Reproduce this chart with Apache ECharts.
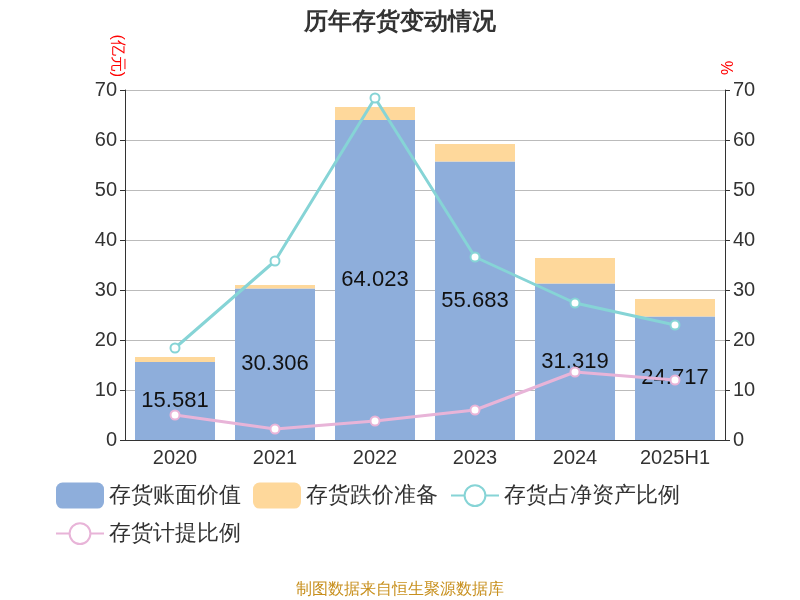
<!DOCTYPE html>
<html><head><meta charset="utf-8">
<script src="https://cdn.jsdelivr.net/npm/echarts@6/dist/echarts.min.js"></script>
<style>html,body{margin:0;padding:0}#c{width:800px;height:600px}</style>
</head><body><div id="c"></div>
<script>
const categories = ['2020','2021','2022','2023','2024','2025H1'];
const bookValue = [15.581, 30.306, 64.023, 55.683, 31.319, 24.717];
const reserve = [1.0, 0.7, 2.6, 3.5, 5.1, 3.5];
const ratioNetAssets = [18.4, 35.8, 68.4, 36.6, 27.4, 23.0];
const ratioProvision = [5.0, 2.2, 3.8, 6.0, 13.6, 12.0];
const ticks = {min:0, max:70, interval:10};
const chart = echarts.init(document.getElementById('c'));
const axisLabel = {fontSize:20, color:'#333'};
chart.setOption({
  title:{text:'历年存货变动情况', left:'center', top:5, textStyle:{fontSize:24, fontWeight:'bold', color:'#333'}},
  grid:{left:125, right:75, top:90, bottom:160},
  legend:{bottom:50, left:50, width:720, itemWidth:48, itemHeight:26, itemGap:12,
    textStyle:{fontSize:22, color:'#333'},
    data:['存货账面价值','存货跌价准备','存货占净资产比例','存货计提比例']},
  xAxis:{type:'category', data:categories, axisLabel:{...axisLabel, interval:0}, axisTick:{alignWithLabel:false}, axisLine:{lineStyle:{color:'#333'}}},
  yAxis:[
    {type:'value', ...ticks, name:'(亿元)', nameLocation:'end', nameRotate:-90, nameGap:10,
      nameTextStyle:{color:'red', fontSize:16, padding:[0,0,0,0], align:'right', verticalAlign:'top'},
      axisLabel, axisLine:{show:true, lineStyle:{color:'#333'}}, axisTick:{show:true}, splitLine:{lineStyle:{color:'#bbb'}}},
    {type:'value', ...ticks, name:'%', nameRotate:-90, nameTextStyle:{color:'red', fontSize:16, padding:[0,0,0,130]},
      axisLabel, axisLine:{show:true, lineStyle:{color:'#333'}}, axisTick:{show:true}, splitLine:{show:false}}
  ],
  series:[
    {name:'存货账面价值', type:'bar', stack:'a', data:bookValue, barWidth:80, itemStyle:{color:'#8eaedb'},
      label:{show:true, position:'inside', fontSize:22, color:'#111'}},
    {name:'存货跌价准备', type:'bar', stack:'a', data:reserve, itemStyle:{color:'#fed89b'}},
    {name:'存货占净资产比例', type:'line', yAxisIndex:1, data:ratioNetAssets, symbol:'circle', symbolSize:9,
      lineStyle:{color:'#86d4d6', width:3}, itemStyle:{color:'#fff', borderColor:'#86d4d6', borderWidth:2}},
    {name:'存货计提比例', type:'line', yAxisIndex:1, data:ratioProvision, symbol:'circle', symbolSize:9,
      lineStyle:{color:'#e8b4d8', width:3}, itemStyle:{color:'#fff', borderColor:'#e8b4d8', borderWidth:2}}
  ],
  graphic:[{type:'text', left:'center', bottom:2, style:{text:'制图数据来自恒生聚源数据库', fill:'#c8901e', fontSize:16}}]
});
</script></body></html>
